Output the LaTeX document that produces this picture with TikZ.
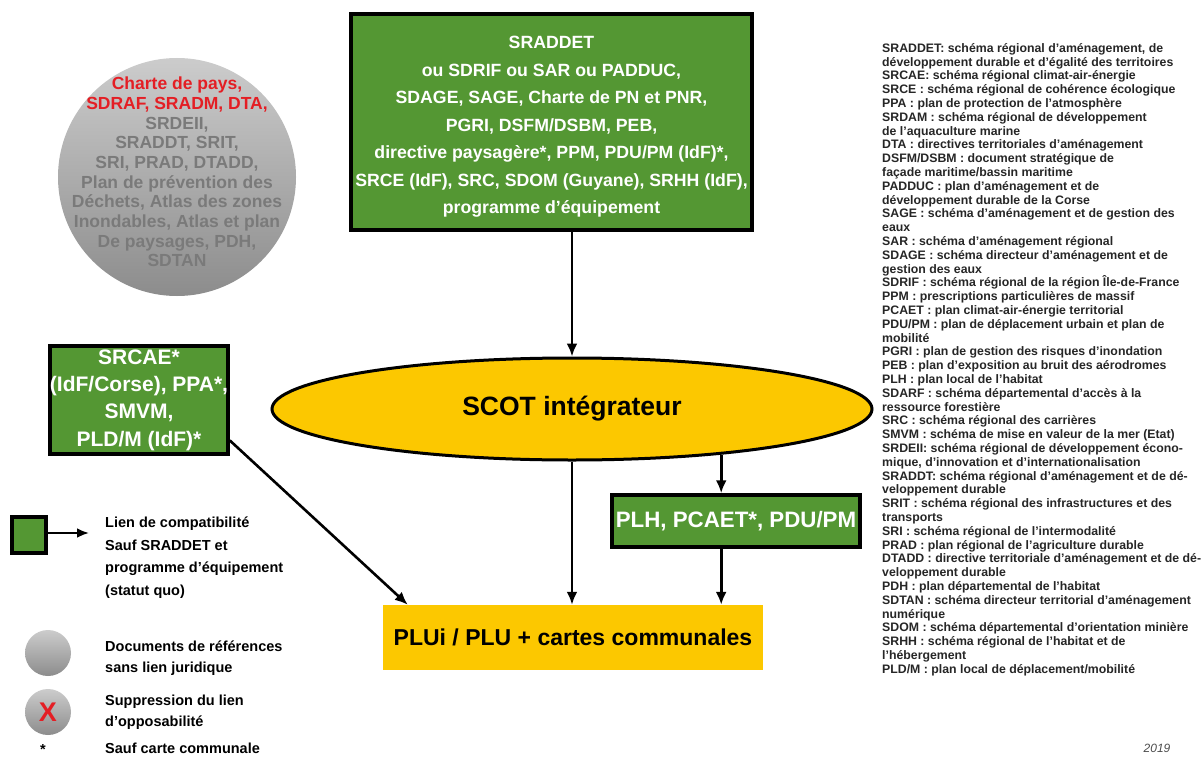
\documentclass[tikz,border=0pt]{standalone}
\usepackage{fontspec}
\setmainfont{Liberation Sans}
\usetikzlibrary{arrows.meta,shapes.geometric}
\definecolor{docgreen}{RGB}{84,151,51}
\definecolor{docyellow}{RGB}{252,200,0}
\definecolor{refgrey}{RGB}{122,122,122}
\definecolor{refred}{RGB}{228,30,36}

\begin{document}
\begin{tikzpicture}[x=1pt, y=-1pt,
    greenbox/.style={draw=black, line width=3.5pt, fill=docgreen, text=white, align=center, inner sep=0pt},
    refdisc/.style={circle, inner sep=0pt, top color=black!20, bottom color=black!45, draw=none},
    link/.style={line width=2.6pt, -{Latex[length=13pt,width=11pt]}}]
	\useasboundingbox (0,0) rectangle (1201,765);
	% documents de reference
	\node[refdisc, minimum size=238pt] (refs) at (177,177) {};
	\node[align=center, font=\bfseries\fontsize{17.5}{19.7}\selectfont, text=refgrey] (refstext) at (177,172)
	  {\textcolor{refred}{Charte de pays,}\\\textcolor{refred}{SDRAF, SRADM, DTA,}\\SRDEII,\\SRADDT, SRIT,\\SRI, PRAD, DTADD,\\Plan de prévention des\\Déchets, Atlas des zones\\Inondables, Atlas et plan\\De paysages, PDH,\\SDTAN};
	% documents opposables
	\node[greenbox, minimum width=401pt, minimum height=216pt] (sraddet) at (551.5,122) {};
	\node[align=center, text=white, font=\bfseries\fontsize{17.7}{27.5}\selectfont] (sraddettext) at (551.5,127)
	  {SRADDET\\ou SDRIF ou SAR ou PADDUC,\\SDAGE, SAGE, Charte de PN et PNR,\\PGRI, DSFM/DSBM, PEB,\\directive paysagère*, PPM, PDU/PM (IdF)*,\\SRCE (IdF), SRC, SDOM (Guyane), SRHH (IdF),\\programme d’équipement};
	\node[greenbox, minimum width=178pt, minimum height=108pt, font=\bfseries\fontsize{21}{27.3}\selectfont] (srcae) at (139,400)
	  {SRCAE*\\(IdF/Corse), PPA*,\\SMVM,\\PLD/M (IdF)*};
	\node[ellipse, draw=black, line width=3pt, fill=docyellow, minimum width=600pt, minimum height=102pt, inner sep=0pt,
	  font=\bfseries\fontsize{26.5}{30}\selectfont] (scot) at (572,409) {SCOT intégrateur};
	\node[greenbox, minimum width=248pt, minimum height=52pt, font=\bfseries\fontsize{22.3}{26}\selectfont] (plh) at (736,521) {PLH, PCAET*, PDU/PM};
	\node[fill=docyellow, minimum width=380pt, minimum height=65pt, inner sep=0pt, font=\bfseries\fontsize{23}{26}\selectfont] (plu) at (573,637.5) {PLUi / PLU + cartes communales};
	% liens
	\draw[link] (scot.north |- sraddet.south) -- (scot.north);
	\draw[link] (scot.south) -- (scot.south |- plu.north);
	\draw[link] (scot.-17) -- (scot.-17 |- plh.north);
	\draw[link] (scot.-17 |- plh.south) -- (scot.-17 |- plu.north);
	\draw[link] (srcae.-24) -- ([xshift=25pt]plu.north west);
	% legende
	\node[greenbox, minimum width=34pt, minimum height=36pt] (keybox) at (29,535) {};
	\coordinate (keyend) at (89,533);
	\draw[line width=2.6pt, -{Latex[length=12pt,width=10pt]}] (keybox.east |- keyend) -- (keyend);
	\node[anchor=north west, align=left, inner sep=0pt, font=\bfseries\fontsize{14.5}{22.4}\selectfont] (keytext) at (105,517)
	  {Lien de compatibilité\\Sauf SRADDET et\\programme d’équipement\\(statut quo)};
	\node[refdisc, minimum size=46pt] (keydisc) at (48,653) {};
	\node[anchor=west, align=left, inner sep=0pt, font=\bfseries\fontsize{14.5}{21}\selectfont] (keydisctext) at (105,658)
	  {Documents de références\\sans lien juridique};
	\node[refdisc, minimum size=46pt, text=refred, font=\bfseries\fontsize{27}{28}\selectfont] (keycross) at (48,712) {X};
	\node[anchor=west, align=left, inner sep=0pt, font=\bfseries\fontsize{14.5}{21}\selectfont] (keycrosstext) at (105,712)
	  {Suppression du lien\\d’opposabilité};
	\node[font=\bfseries\fontsize{14.5}{16}\selectfont] (keystar) at (43,750) {*};
	\node[anchor=west, inner sep=0pt, font=\bfseries\fontsize{14.5}{16}\selectfont] (keystartext) at (105,748) {Sauf carte communale};
	% glossaire
	\node[anchor=north west, align=left, inner sep=0pt, text=black!85, font=\bfseries\fontsize{12.3}{13.8}\selectfont] (gloss) at (882,43)
	  {SRADDET: schéma régional d'aménagement, de\\
	   développement durable et d'égalité des territoires\\
	   SRCAE: schéma régional climat-air-énergie\\
	   SRCE : schéma régional de cohérence écologique\\
	   PPA : plan de protection de l'atmosphère\\
	   SRDAM : schéma régional de développement\\
	   de l'aquaculture marine\\
	   DTA : directives territoriales d'aménagement\\
	   DSFM/DSBM : document stratégique de\\
	   façade maritime/bassin maritime\\
	   PADDUC : plan d'aménagement et de\\
	   développement durable de la Corse\\
	   SAGE : schéma d'aménagement et de gestion des\\
	   eaux\\
	   SAR : schéma d'aménagement régional\\
	   SDAGE : schéma directeur d'aménagement et de\\
	   gestion des eaux\\
	   SDRIF : schéma régional de la région Île-de-France\\
	   PPM : prescriptions particulières de massif\\
	   PCAET : plan climat-air-énergie territorial\\
	   PDU/PM : plan de déplacement urbain et plan de\\
	   mobilité\\
	   PGRI : plan de gestion des risques d'inondation\\
	   PEB : plan d'exposition au bruit des aérodromes\\
	   PLH : plan local de l'habitat\\
	   SDARF : schéma départemental d'accès à la\\
	   ressource forestière\\
	   SRC : schéma régional des carrières\\
	   SMVM : schéma de mise en valeur de la mer (Etat)\\
	   SRDEII: schéma régional de développement écono-\\
	   mique, d'innovation et d'internationalisation\\
	   SRADDT: schéma régional d'aménagement et de dé-\\
	   veloppement durable\\
	   SRIT : schéma régional des infrastructures et des\\
	   transports\\
	   SRI : schéma régional de l'intermodalité\\
	   PRAD : plan régional de l'agriculture durable\\
	   DTADD : directive territoriale d'aménagement et de dé-\\
	   veloppement durable\\
	   PDH : plan départemental de l'habitat\\
	   SDTAN : schéma directeur territorial d'aménagement\\
	   numérique\\
	   SDOM : schéma départemental d'orientation minière\\
	   SRHH : schéma régional de l'habitat et de\\
	   l'hébergement\\
	   PLD/M : plan local de déplacement/mobilité};
	\node[font=\itshape\fontsize{12}{14}\selectfont, text=black!70] (year) at (1157,748) {2019};
\end{tikzpicture}
\end{document}
